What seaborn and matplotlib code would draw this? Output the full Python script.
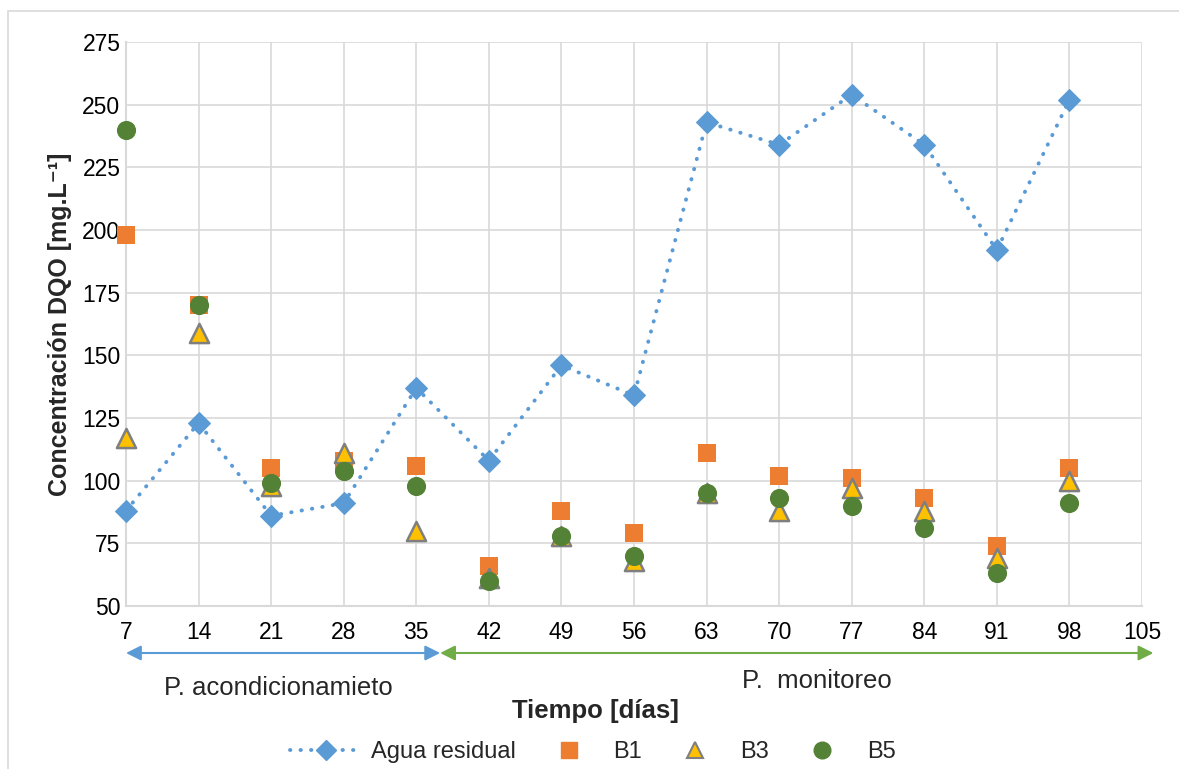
import numpy as np
import pandas as pd
import matplotlib
matplotlib.use("Agg")
import matplotlib.pyplot as plt
from matplotlib.lines import Line2D
from matplotlib.patches import Rectangle
import seaborn as sns

dias = [7, 14, 21, 28, 35, 42, 49, 56, 63, 70, 77, 84, 91, 98]
agua_residual = [88, 123, 86, 91, 137, 108, 146, 134, 243, 234, 254, 234, 192, 252]
b1 = [198, 170, 105, 108, 106, 66, 88, 79, 111, 102, 101, 93, 74, 105]
b3 = [117, 159, 98, 111, 80, 61, 78, 68, 95, 88, 97, 88, 69, 100]
b5 = [240, 170, 99, 104, 98, 60, 78, 70, 95, 93, 90, 81, 63, 91]
x_ticks = [7, 14, 21, 28, 35, 42, 49, 56, 63, 70, 77, 84, 91, 98, 105]
y_ticks = [50, 75, 100, 125, 150, 175, 200, 225, 250, 275]

sns.set_theme(style="white")
plt.rcParams['font.family'] = ['Liberation Sans', 'DejaVu Sans']

BLUE = "#5B9BD5"
ORANGE = "#ED7D31"
YELLOW = "#FFC000"
GRAY = "#7F7F7F"
GREEN = "#538135"
LGREEN = "#70AD47"
DOTS = (0, (0.1, 2.6))

fig = plt.figure(figsize=(11.79, 7.69), dpi=100)
ax = fig.add_axes([126/1179, 1 - 606/769, (1142-126)/1179, (606-42)/769])

df_a = pd.DataFrame({"dia": dias, "val": agua_residual})
sns.lineplot(data=df_a, x="dia", y="val", ax=ax, color=BLUE, linestyle=DOTS,
             linewidth=2.8, dash_capstyle="round", marker="D", markersize=11,
             markeredgecolor=BLUE, zorder=3, clip_on=False)

df_b1 = pd.DataFrame({"dia": dias, "val": b1})
df_b3 = pd.DataFrame({"dia": dias, "val": b3})
df_b5 = pd.DataFrame({"dia": dias, "val": b5})
sns.scatterplot(data=df_b1, x="dia", y="val", ax=ax, marker="s", s=185, color=ORANGE,
                edgecolor=ORANGE, linewidth=0, zorder=4, clip_on=False)
sns.scatterplot(data=df_b3, x="dia", y="val", ax=ax, marker="^", s=190, color=YELLOW,
                edgecolor=GRAY, linewidth=1.8, zorder=5, clip_on=False)
sns.scatterplot(data=df_b5, x="dia", y="val", ax=ax, marker="o", s=190, color=GREEN,
                edgecolor=GREEN, linewidth=0, zorder=6, clip_on=False)

ax.set_xlim(7, 105)
ax.set_ylim(50, 275)
ax.set_xticks(x_ticks)
ax.set_yticks(y_ticks)
ax.grid(True, color="#D9D9D9", linewidth=1.2)
ax.set_axisbelow(True)
for s in ["top", "right"]:
    ax.spines[s].set_visible(False)
for s in ["left", "bottom"]:
    ax.spines[s].set_color("#D9D9D9")
    ax.spines[s].set_linewidth(1.5)
ax.tick_params(axis="both", length=0, labelsize=16.5, colors="black")
ax.tick_params(axis="x", pad=11)
ax.tick_params(axis="y", pad=4)

ax.set_xlabel("")
ax.set_ylabel("Concentración DQO [mg.L⁻¹]", fontsize=18, fontweight="bold", labelpad=7)
fig.text(595/1179, 1 - 711/769, "Tiempo [días]", ha="center", va="center",
         fontsize=18.5, fontweight="bold")

# phase arrows
trans = ax.get_xaxis_transform()
y_arr = -(653 - 606) / (606 - 42)
arrow_style = "<|-|>,head_length=0.5,head_width=0.25"
ax.annotate("", xy=(7, y_arr), xytext=(37.3, y_arr), xycoords=trans, textcoords=trans,
            arrowprops=dict(arrowstyle=arrow_style, color=BLUE, lw=1.5, mutation_scale=18,
                            shrinkA=0, shrinkB=0), annotation_clip=False)
ax.annotate("", xy=(37.3, y_arr), xytext=(106.1, y_arr), xycoords=trans, textcoords=trans,
            arrowprops=dict(arrowstyle=arrow_style, color=LGREEN, lw=1.5, mutation_scale=18,
                            shrinkA=0, shrinkB=0), annotation_clip=False)
fig.text(278/1179, 1 - 688/769, "P. acondicionamieto", ha="center", va="center", fontsize=18.5)
fig.text(817/1179, 1 - 681/769, "P.  monitoreo", ha="center", va="center", fontsize=18.5)

handles = [
    Line2D([], [], color=BLUE, linestyle=DOTS, linewidth=2.8, dash_capstyle="round",
           marker="D", markersize=10),
    Line2D([], [], color=ORANGE, linestyle="none", marker="s", markersize=11),
    Line2D([], [], color=YELLOW, markeredgecolor=GRAY, markeredgewidth=1.5,
           linestyle="none", marker="^", markersize=11),
    Line2D([], [], color=GREEN, linestyle="none", marker="o", markersize=12),
]
fig.legend(handles, ["Agua residual", "B1", "B3", "B5"], loc="center",
           bbox_to_anchor=(593/1179, 1 - 752/769), ncol=4, frameon=False, fontsize=17,
           handlelength=3.0, columnspacing=0.75, handletextpad=0.4,
           borderpad=0, borderaxespad=0)

fig.patches.append(Rectangle((8/1179, -0.05), 1.1, 1.05 - 11/769, transform=fig.transFigure,
                             fill=False, edgecolor="#D9D9D9", linewidth=1.2))

fig.savefig("out.png", dpi=100)
